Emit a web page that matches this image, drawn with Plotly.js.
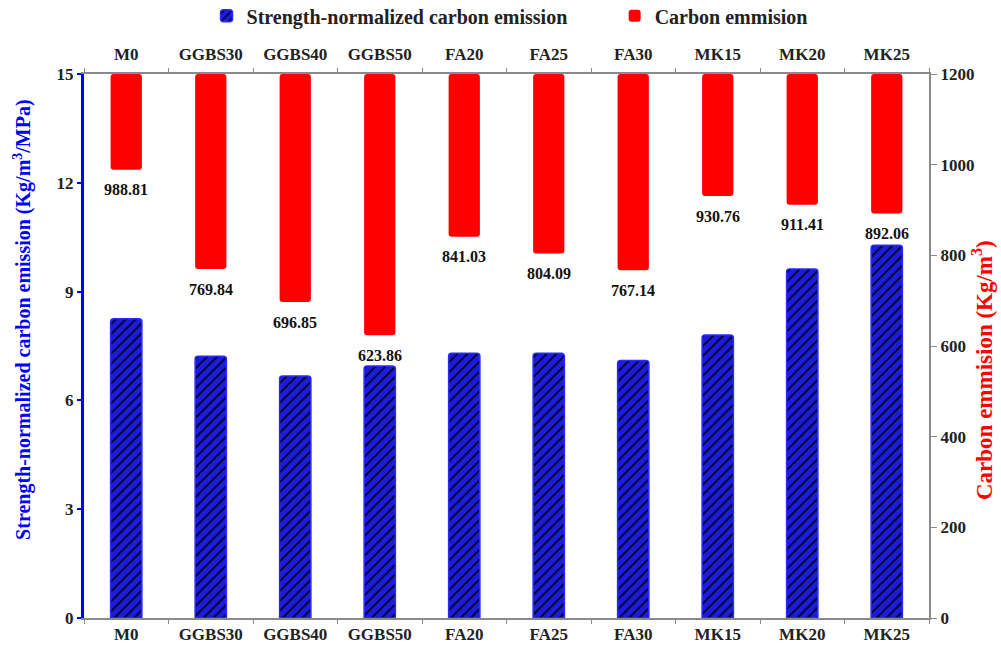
<!DOCTYPE html>
<html><head><meta charset="utf-8">
<script src="https://cdn.plot.ly/plotly-3.0.1.min.js"></script>
<style>html,body{margin:0;padding:0;background:#fff}#chart{width:1001px;height:649px}</style>
</head><body><div id="chart"></div>
<script>
const categories = ["M0","GGBS30","GGBS40","GGBS50","FA20","FA25","FA30","MK15","MK20","MK25"];
const strengthNormalized = [8.25, 7.22, 6.67, 6.95, 7.3, 7.3, 7.1, 7.8, 9.62, 10.28];
const carbonEmission = [988.81, 769.84, 696.85, 623.86, 841.03, 804.09, 767.14, 930.76, 911.41, 892.06];
const carbonTop = 1200;
const carbonLabels = carbonEmission.map(v => v.toFixed(2));
const leftTitle = "Strength-normalized carbon emission (Kg/m<sup>3</sup>/MPa)";
const rightTitle = "Carbon emmision (Kg/m<sup>3</sup>)";

const FONT = "Liberation Serif, Times New Roman, serif";
const tickFont = {family: FONT, size: 17, color: "#222", weight: "bold"};

const traces = [
  {
    type: "bar", name: "Strength-normalized carbon emission", legend: "legend",
    x: categories, y: strengthNormalized, xaxis: "x", yaxis: "y",
    width: 0.37,
    marker: {color: "#1c1cdc", line: {color: "#2a2aff", width: 1.5},
      pattern: {shape: "/", fgcolor: "#000018", bgcolor: "#1c1cdc", size: 7, solidity: 0.25}}
  },
  {
    type: "bar", name: "Carbon emmision", legend: "legend2",
    x: categories, base: carbonTop, y: carbonEmission.map(v => v - carbonTop),
    xaxis: "x2", yaxis: "y2", width: 0.37,
    marker: {color: "#ff0000", line: {width: 0}}
  }
];

const annotations = categories.map((c, i) => ({
  x: c, y: carbonEmission[i], xref: "x2", yref: "y2",
  text: carbonLabels[i], showarrow: false, yanchor: "middle", yshift: -20,
  font: {family: FONT, size: 16, color: "#111", weight: "bold"}
}));
annotations.push({
  xref: "paper", yref: "paper", x: -0.0722, y: 0.548, textangle: -90,
  text: leftTitle, showarrow: false, xanchor: "center", yanchor: "middle",
  font: {family: FONT, size: 20, color: "#0000ff", weight: "bold"}
});
annotations.push({
  xref: "paper", yref: "paper", x: 1.064, y: 0.456, textangle: -90,
  text: rightTitle, showarrow: false, xanchor: "center", yanchor: "middle",
  font: {family: FONT, size: 23, color: "#ff0000", weight: "bold"}
});

const legendFont = {family: FONT, size: 20, color: "#222", weight: "bold"};
const layout = {
  width: 1001, height: 649,
  margin: {l: 84, r: 72, t: 74, b: 31, autoexpand: false},
  paper_bgcolor: "#fff", plot_bgcolor: "#fff",
  barmode: "overlay", barcornerradius: 3,
  font: {family: FONT},
  showlegend: true,
  legend: {orientation: "h", x: 0.145, xanchor: "left", y: 1.107, yanchor: "middle",
    font: legendFont, itemwidth: 30, bgcolor: "rgba(0,0,0,0)"},
  legend2: {orientation: "h", x: 0.628, xanchor: "left", y: 1.107, yanchor: "middle",
    font: legendFont, itemwidth: 30, bgcolor: "rgba(0,0,0,0)"},
  annotations: annotations,
  xaxis: {
    type: "category", domain: [0, 1], anchor: "y",
    showline: true, linecolor: "#8a8a8a", linewidth: 2,
    ticks: "outside", tickson: "boundaries", ticklen: 4, tickcolor: "#8a8a8a",
    tickfont: tickFont, showgrid: false, zeroline: false, range: [-0.5, 9.5]
  },
  xaxis2: {
    type: "category", overlaying: "x", side: "top", anchor: "y2",
    showline: true, linecolor: "#8a8a8a", linewidth: 2,
    ticks: "outside", tickson: "boundaries", ticklen: 4, tickcolor: "#8a8a8a",
    ticklabelstandoff: 5,
    tickfont: tickFont, showgrid: false, zeroline: false, range: [-0.5, 9.5]
  },
  yaxis: {
    range: [0, 15], tickvals: [0, 3, 6, 9, 12, 15], showgrid: false, zeroline: false,
    showline: true, linecolor: "#0000ff", linewidth: 3,
    ticks: "outside", ticklen: 4, tickcolor: "#0000ff", tickwidth: 2,
    tickfont: tickFont, automargin: false
  },
  yaxis2: {
    range: [0, 1200], tickvals: [0, 200, 400, 600, 800, 1000, 1200],
    overlaying: "y", side: "right", anchor: "x2",
    showgrid: false, zeroline: false,
    showline: true, linecolor: "#8a8a8a", linewidth: 2,
    ticks: "outside", ticklen: 6, tickcolor: "#8a8a8a",
    tickfont: tickFont, automargin: false
  }
};

Plotly.newPlot("chart", traces, layout, {displayModeBar: false, staticPlot: true});
</script></body></html>
